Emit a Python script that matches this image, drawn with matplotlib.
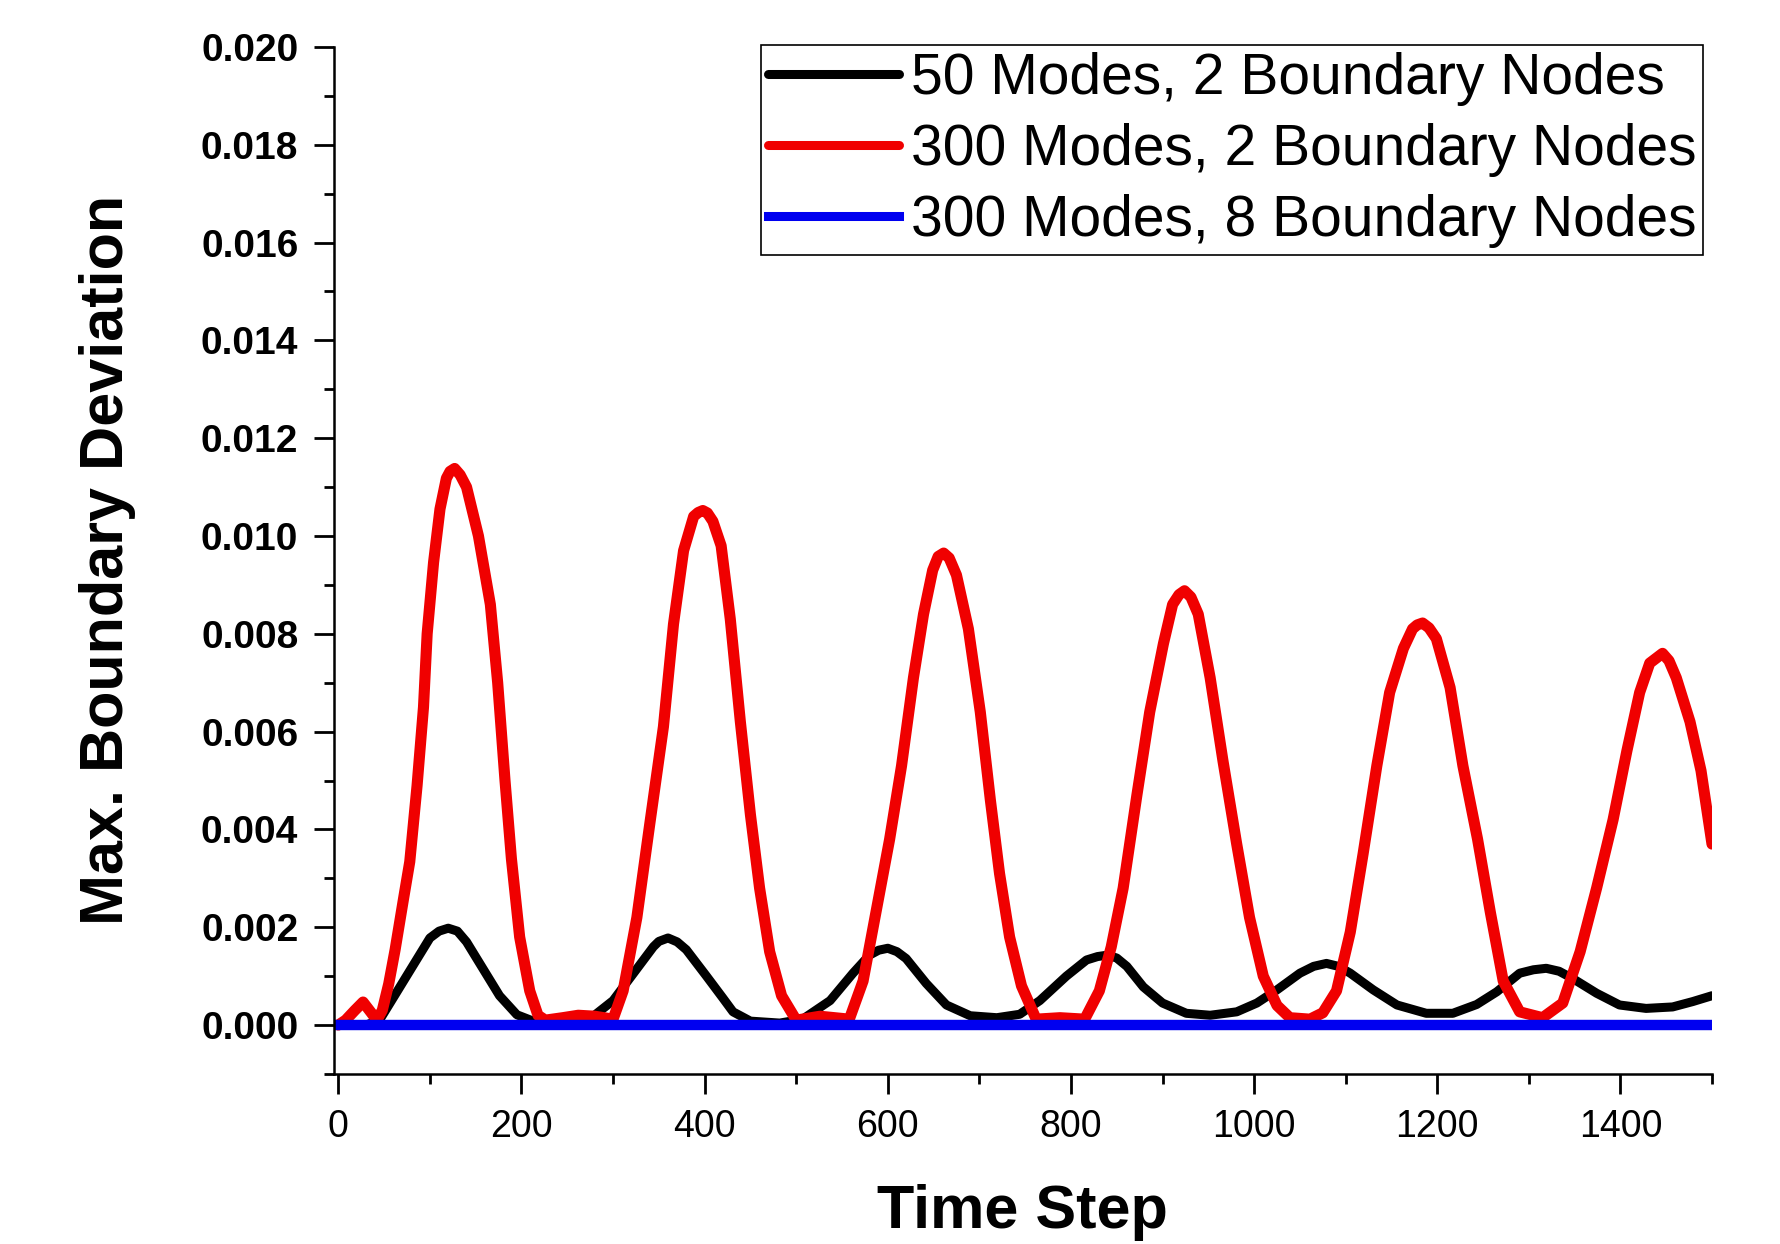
import matplotlib
matplotlib.use('Agg')
import matplotlib.pyplot as plt
from matplotlib.ticker import MultipleLocator, FormatStrFormatter

plt.rcParams['font.family'] = ['Liberation Sans', 'DejaVu Sans']

# ── data ─────────────────────────────────────────────────────────────────────
labels = ['50 Modes, 2 Boundary Nodes',
          '300 Modes, 2 Boundary Nodes',
          '300 Modes, 8 Boundary Nodes']

black_x = [0, 30, 45, 64, 82, 100, 110, 120, 130, 140,
           158, 176, 195, 217, 246, 275, 300, 326, 344, 350,
           360, 370, 380, 402, 420, 431, 450, 482, 507, 537,
           562, 580, 590, 600, 610, 620, 642, 664, 690, 719,
           744, 766, 795, 817, 829, 840, 850, 861, 879, 900,
           926, 952, 981, 1003, 1025, 1050, 1065, 1079, 1092, 1105,
           1130, 1156, 1188, 1217, 1243, 1265, 1290, 1305, 1319, 1333,
           1348, 1374, 1399, 1428, 1457, 1479, 1500]
black_y = [0, 0, 0.0001, 0.00068, 0.00123, 0.00178, 0.00192, 0.00198, 0.00192, 0.0017,
           0.00115, 0.0006, 0.00021, 0.00005, 0.00001, 0.00013, 0.0005, 0.00115, 0.0016, 0.00171,
           0.00178, 0.0017, 0.00154, 0.001, 0.00055, 0.00027, 0.00008, 0.00004, 0.00012, 0.0005,
           0.00106, 0.00143, 0.00153, 0.00157, 0.0015, 0.00136, 0.00085, 0.00041, 0.00019, 0.00015,
           0.00022, 0.0005, 0.001, 0.00133, 0.0014, 0.00143, 0.00137, 0.0012, 0.00078, 0.00045,
           0.00024, 0.0002, 0.00027, 0.00045, 0.00072, 0.00106, 0.0012, 0.00126, 0.0012, 0.00106,
           0.00072, 0.00041, 0.00024, 0.00024, 0.00042, 0.00068, 0.00106, 0.00113, 0.00116, 0.0011,
           0.00095, 0.00065, 0.00041, 0.00034, 0.00037, 0.00048, 0.0006]

red_x = [0, 8, 18, 27, 36, 42, 48, 55, 62, 71,
         78, 86, 93, 97, 104, 111, 118, 122, 127, 133,
         140, 153, 166, 174, 182, 189, 198, 209, 218, 226,
         245, 262, 280, 300, 311, 326, 340, 355, 366, 377,
         388, 393, 398, 403, 409, 418, 428, 439, 450, 460,
         471, 484, 500, 526, 558, 573, 588, 602, 615, 628,
         639, 649, 655, 661, 667, 675, 688, 701, 712, 722,
         733, 746, 762, 788, 815, 831, 844, 857, 872, 886,
         901, 911, 918, 924, 931, 939, 952, 966, 981, 995,
         1010, 1025, 1039, 1061, 1075, 1090, 1105, 1119, 1134, 1148,
         1163, 1173, 1178, 1184, 1191, 1199, 1214, 1228, 1244, 1258,
         1272, 1290, 1315, 1337, 1356, 1374, 1392, 1407, 1421, 1432,
         1439, 1446, 1453, 1461, 1476, 1488, 1500]
red_y = [0.0, 0.0001, 0.0003, 0.00047, 0.00025, 0.0001, 0.0003, 0.00084, 0.00154, 0.00256,
         0.00334, 0.0049, 0.0065, 0.0080, 0.00946, 0.01055, 0.01118, 0.01132, 0.01138, 0.01125,
         0.0110, 0.0100, 0.0086, 0.0070, 0.0050, 0.0034, 0.0018, 0.0007, 0.0002, 0.0001,
         0.00015, 0.0002, 0.00018, 0.00012, 0.0007, 0.0022, 0.0041, 0.0061, 0.0082, 0.0097,
         0.0104, 0.01048, 0.01052, 0.01047, 0.0103, 0.0098, 0.0083, 0.0062, 0.0043, 0.0028,
         0.0015, 0.0006, 0.0001, 0.00018, 0.00012, 0.0009, 0.0024, 0.0038, 0.0053, 0.0071,
         0.0084, 0.0093, 0.00958, 0.00965, 0.00955, 0.0092, 0.0081, 0.0064, 0.0046, 0.0031,
         0.0018, 0.0008, 0.00012, 0.00015, 0.00012, 0.0007, 0.0016, 0.0028, 0.0047, 0.0064,
         0.0078, 0.0086, 0.0088, 0.00888, 0.00875, 0.0084, 0.0071, 0.0054, 0.0037, 0.0022,
         0.0010, 0.0004, 0.00015, 0.00012, 0.00025, 0.0007, 0.0019, 0.0035, 0.0053, 0.0068,
         0.0077, 0.0081, 0.00818, 0.00822, 0.00812, 0.0079, 0.0069, 0.0053, 0.0038, 0.0023,
         0.0009, 0.00027, 0.00015, 0.00045, 0.0015, 0.0028, 0.0042, 0.0056, 0.0068, 0.0074,
         0.0075, 0.0076, 0.00745, 0.0071, 0.0062, 0.0052, 0.0037]

blue_x = [0, 1500]
blue_y = [0.0, 0.0]
# ─────────────────────────────────────────────────────────────────────────────

fig = plt.figure(figsize=(17.8, 12.44), dpi=100)
ax = fig.add_axes([0.1875, 0.1367, 0.7743, 0.8256])

ax.plot(black_x, black_y, color='black', lw=6.5, solid_joinstyle='round',
        solid_capstyle='round', label=labels[0])
ax.plot(red_x, red_y, color='#f00000', lw=8, solid_joinstyle='round',
        solid_capstyle='round', label=labels[1])
ax.plot(blue_x, blue_y, color='#0000f0', lw=7.5, label=labels[2])

ax.set_xlim(-5, 1500)
ax.set_ylim(-0.001, 0.020)

ax.spines['top'].set_visible(False)
ax.spines['right'].set_visible(False)
for s in ['left', 'bottom']:
    ax.spines[s].set_linewidth(1.8)

ax.xaxis.set_major_locator(MultipleLocator(200))
ax.xaxis.set_minor_locator(MultipleLocator(100))
ax.yaxis.set_major_locator(MultipleLocator(0.002))
ax.yaxis.set_minor_locator(MultipleLocator(0.001))
ax.yaxis.set_major_formatter(FormatStrFormatter('%.3f'))

ax.tick_params(which='major', direction='out', length=14.5, width=2, pad=11)
ax.tick_params(which='minor', direction='out', length=7, width=2)
ax.tick_params(axis='x', labelsize=27)
ax.tick_params(axis='y', labelsize=28)
for t in ax.get_yticklabels():
    t.set_fontweight('bold')

ax.set_xlabel('Time Step', fontsize=44, fontweight='bold', labelpad=28)
ax.set_ylabel('Max. Boundary Deviation', fontsize=44, fontweight='bold', labelpad=47)

leg = ax.legend(loc='upper right', bbox_to_anchor=(1703 / 1780, 1 - 45 / 1244),
                bbox_transform=fig.transFigure, fontsize=41, frameon=True,
                fancybox=False, edgecolor='black', framealpha=1,
                borderpad=0.12, labelspacing=0.3, handlelength=2.3,
                handletextpad=0.2, borderaxespad=0)
leg.get_frame().set_linewidth(1.2)
for line in leg.get_lines():
    line.set_linewidth(6.5)

fig.savefig('out.png', dpi=100)
